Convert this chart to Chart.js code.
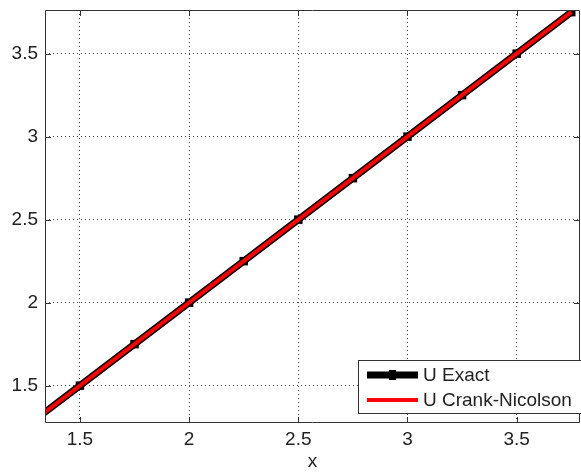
<!DOCTYPE html>
<html>
<head>
<meta charset="utf-8">
<script src="https://cdn.jsdelivr.net/npm/chart.js@4/dist/chart.umd.min.js"></script>
<style>
  html, body { margin: 0; padding: 0; background: #fff; }
  #wrap { width: 581px; height: 473px; }
</style>
</head>
<body>
<div id="wrap"><canvas id="solChart" width="581" height="473"></canvas></div>
<script>
// data
const xValues = [1.25, 1.5, 1.75, 2, 2.25, 2.5, 2.75, 3, 3.25, 3.5, 3.75];
const uExact = [1.25, 1.5, 1.75, 2, 2.25, 2.5, 2.75, 3, 3.25, 3.5, 3.75];
const uCrankNicolson = [1.25, 1.5, 1.75, 2, 2.25, 2.5, 2.75, 3, 3.25, 3.5, 3.75];
const xTicks = [1.5, 2, 2.5, 3, 3.5];
const yTicks = [1.5, 2, 2.5, 3, 3.5];
const xRange = [1.34, 3.79];
const yRange = [1.275, 3.763];

const font = { family: 'Liberation Sans, Arial, sans-serif', size: 19 };

function points(ys) {
    return xValues.map((x, i) => ({ x: x, y: ys[i] }));
}

// box, inward ticks and legend, like a matlab axes
const matlabAxes = {
    id: 'matlabAxes',
    afterDatasetsDraw(chart) {
        const ctx = chart.ctx;
        const a = chart.chartArea;
        const sx = chart.scales.x, sy = chart.scales.y;
        ctx.save();
        ctx.strokeStyle = '#333';
        ctx.lineWidth = 1;
        ctx.beginPath();
        ctx.rect(a.left + 0.5, a.top + 0.5, a.right - a.left - 1, a.bottom - a.top - 1);
        xTicks.forEach(v => {
            const px = Math.round(sx.getPixelForValue(v)) + 0.5;
            ctx.moveTo(px, a.bottom); ctx.lineTo(px, a.bottom - 6);
            ctx.moveTo(px, a.top); ctx.lineTo(px, a.top + 6);
        });
        yTicks.forEach(v => {
            const py = Math.round(sy.getPixelForValue(v)) + 0.5;
            ctx.moveTo(a.left, py); ctx.lineTo(a.left + 6, py);
            ctx.moveTo(a.right, py); ctx.lineTo(a.right - 6, py);
        });
        ctx.stroke();

        // legend
        const lx = 358.5, ly = 360.5, lw = 240, lh = 53;
        ctx.fillStyle = '#fff';
        ctx.fillRect(lx, ly, lw, lh);
        ctx.strokeStyle = '#333';
        ctx.strokeRect(lx, ly, lw, lh);
        const rows = [chart.data.datasets[1], chart.data.datasets[0]];
        ctx.font = font.size + 'px ' + font.family;
        ctx.textBaseline = 'middle';
        rows.forEach((ds, i) => {
            const yy = 375 + i * 25;
            ctx.strokeStyle = ds.borderColor;
            ctx.lineWidth = ds.borderWidth;
            ctx.beginPath();
            ctx.moveTo(367, yy); ctx.lineTo(418, yy);
            ctx.stroke();
            if (ds.pointRadius > 0) {
                ctx.fillStyle = ds.pointBackgroundColor;
                ctx.fillRect(389, yy - 5, 7, 10);
            }
            ctx.fillStyle = '#222';
            ctx.fillText(ds.label, 423, yy + 1);
        });
        ctx.restore();
    }
};

new Chart(document.getElementById('solChart'), {
    type: 'line',
    data: {
        datasets: [
            {
                label: 'U Crank-Nicolson',
                data: points(uCrankNicolson),
                borderColor: '#ff0000',
                borderWidth: 4,
                pointRadius: 0,
                fill: false,
                order: 1
            },
            {
                label: 'U Exact',
                data: points(uExact),
                borderColor: '#000000',
                borderWidth: 7,
                pointStyle: 'rect',
                pointRadius: 6,
                pointBorderWidth: 0,
                pointBackgroundColor: '#000000',
                pointBorderColor: '#000000',
                fill: false,
                order: 2
            }
        ]
    },
    options: {
        responsive: false,
        animation: false,
        layout: { autoPadding: false, padding: { top: 10, right: 1, left: 0, bottom: 0 } },
        plugins: {
            legend: { display: false },
            tooltip: { enabled: false }
        },
        scales: {
            x: {
                type: 'linear',
                min: xRange[0],
                max: xRange[1],
                afterBuildTicks: s => { s.ticks = xTicks.map(v => ({ value: v })); },
                afterFit: s => { s.height = 50; s.paddingLeft = 0; s.paddingRight = 0; },
                grid: { color: '#444', lineWidth: 1, drawTicks: false },
                border: { display: false, dash: [1, 3] },
                ticks: { font: font, color: '#222', padding: 5, callback: v => String(v) },
                title: { display: true, text: 'x', font: font, color: '#222', padding: { top: 0, bottom: 0 } }
            },
            y: {
                type: 'linear',
                min: yRange[0],
                max: yRange[1],
                afterBuildTicks: s => { s.ticks = yTicks.map(v => ({ value: v })); },
                afterFit: s => { s.width = 45; s.paddingTop = 0; s.paddingBottom = 0; },
                grid: { color: '#444', lineWidth: 1, drawTicks: false },
                border: { display: false, dash: [1, 3] },
                ticks: { font: font, color: '#222', padding: 7, callback: v => String(v) }
            }
        }
    },
    plugins: [matlabAxes]
});
</script>
</body>
</html>
